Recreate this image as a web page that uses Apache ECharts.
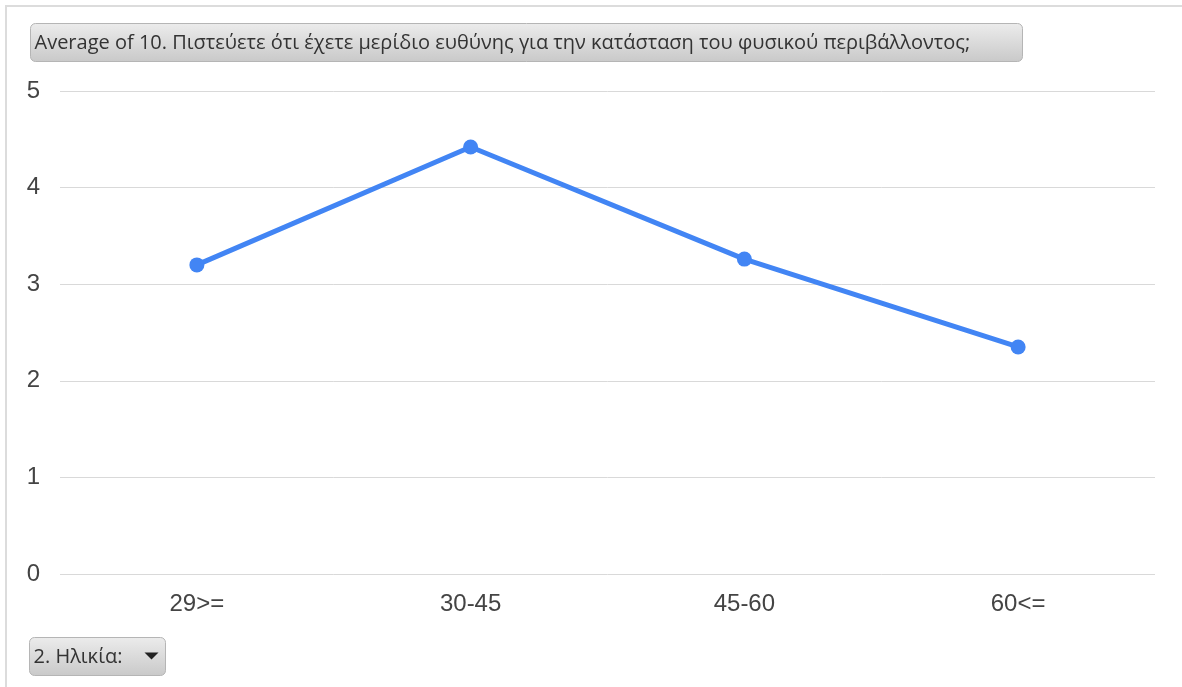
<!DOCTYPE html>
<html>
<head>
<meta charset="utf-8">
<script src="https://cdn.jsdelivr.net/npm/echarts@6/dist/echarts.min.js"></script>
<style>
  html, body { margin: 0; padding: 0; background: #fff; }
  #chart { width: 1182px; height: 687px; }
</style>
</head>
<body>
<div id="chart"></div>
<script>
// Age groups and the mean answer for each group
const ageGroups = ['29>=', '30-45', '45-60', '60<='];
const averages = [3.20, 4.42, 3.26, 2.35];
const yTicks = [0, 1, 2, 3, 4, 5];

const titleText = 'Average of 10. Πιστεύετε ότι έχετε μερίδιο ευθύνης για την κατάσταση του φυσικού περιβάλλοντος;';
const filterText = '2. Ηλικία:';

const buttonFill = new echarts.graphic.LinearGradient(0, 0, 0, 1, [
  { offset: 0, color: '#ececec' },
  { offset: 1, color: '#c9c9c9' }
]);

const chart = echarts.init(document.getElementById('chart'), null, { renderer: 'canvas' });

chart.setOption({
  backgroundColor: '#ffffff',
  animation: false,
  grid: { left: 60, right: 27, top: 91, bottom: 113, containLabel: false },
  xAxis: {
    type: 'category',
    data: ageGroups,
    boundaryGap: true,
    axisLine: { show: false },
    axisTick: { show: false },
    axisLabel: {
      margin: 18,
      fontFamily: 'Liberation Sans, Arial, sans-serif',
      fontSize: 24,
      color: '#444444'
    },
    splitLine: { show: false }
  },
  yAxis: {
    type: 'value',
    min: yTicks[0],
    max: yTicks[yTicks.length - 1],
    interval: 1,
    axisLine: { show: false },
    axisTick: { show: false },
    axisLabel: {
      margin: 20,
      fontFamily: 'Liberation Sans, Arial, sans-serif',
      fontSize: 24,
      color: '#444444'
    },
    splitLine: { lineStyle: { color: '#d9d9d9', width: 1 } }
  },
  series: [{
    type: 'line',
    data: averages,
    symbol: 'circle',
    symbolSize: 15,
    lineStyle: { color: '#4285f4', width: 5 },
    itemStyle: { color: '#4285f4' }
  }],
  graphic: [
    // outer frame edges
    { type: 'rect', shape: { x: 5, y: 5, width: 1177, height: 2 }, style: { fill: '#dcdcdc' }, silent: true },
    { type: 'rect', shape: { x: 5, y: 5, width: 2, height: 682 }, style: { fill: '#dcdcdc' }, silent: true },
    // field button holding the title
    {
      type: 'group',
      left: 30,
      top: 23,
      children: [
        {
          type: 'rect',
          shape: { x: 0, y: 0, width: 992, height: 38, r: 5 },
          style: { fill: buttonFill, stroke: '#b5b5b5', lineWidth: 1 }
        },
        {
          type: 'text',
          x: 4,
          y: 20,
          style: {
            text: titleText,
            fontFamily: 'Open Sans, Noto Sans, sans-serif',
            fontSize: 20,
            fill: '#333333',
            verticalAlign: 'middle'
          }
        }
      ]
    },
    // filter button for the row field
    {
      type: 'group',
      left: 29,
      top: 637,
      children: [
        {
          type: 'rect',
          shape: { x: 0, y: 0, width: 136, height: 38, r: 5 },
          style: { fill: buttonFill, stroke: '#b5b5b5', lineWidth: 1 }
        },
        {
          type: 'text',
          x: 4,
          y: 20,
          style: {
            text: filterText,
            fontFamily: 'Open Sans, Noto Sans, sans-serif',
            fontSize: 20,
            fill: '#333333',
            verticalAlign: 'middle'
          }
        },
        {
          type: 'polygon',
          shape: { points: [[115, 15], [129, 15], [122, 22]] },
          style: { fill: '#222222' }
        }
      ]
    }
  ]
});
</script>
</body>
</html>
